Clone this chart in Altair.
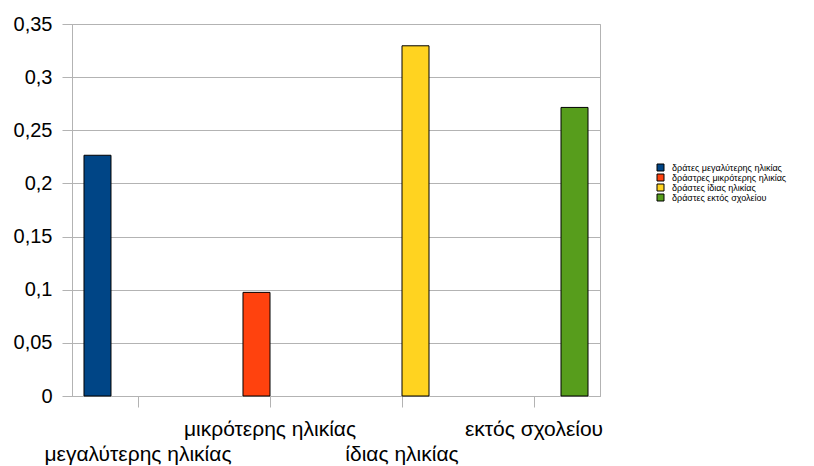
import altair as alt
import pandas as pd

categories = ["μεγαλύτερης ηλικίας", "μικρότερης ηλικίας", "ίδιας ηλικίας", "εκτός σχολείου"]
series = ["δράτες μεγαλύτερης ηλικίας", "δράστρες μικρότερης ηλικίας",
          "δράστες ίδιας ηλικίας", "δράστες εκτός σχολείου"]
values = [0.2265, 0.0975, 0.3295, 0.2715]
colors = ["#004586", "#ff420e", "#ffd320", "#579d1c"]
y_ticks = [0, 0.05, 0.1, 0.15, 0.2, 0.25, 0.3, 0.35]

df = pd.DataFrame({"category": categories, "series": series, "value": values})

grid = "#b3b3b3"
font = "Liberation Sans"

low_row = "datum.value === '" + categories[0] + "' || datum.value === '" + categories[2] + "'"

chart = alt.Chart(df).mark_bar(stroke="black", strokeWidth=1).encode(
    x=alt.X("category:N", sort=categories, title=None,
            scale=alt.Scale(paddingInner=0, paddingOuter=0),
            axis=alt.Axis(labelAngle=0, labelFont=font, labelFontSize=21, labelColor="#000",
                          tickColor=grid, tickSize=11, domainColor=grid, grid=False,
                          labelBaseline="top", labelLimit=400,
                          labelPadding={"condition": {"test": low_row, "value": 36}, "value": 11},
                          labelOverlap=False, labelBound=False, labelFlush=False)),
    xOffset=alt.XOffset("series:N", sort=series,
                        scale=alt.Scale(domain=series, paddingInner=0, paddingOuter=0.444)),
    y=alt.Y("value:Q", title=None,
            scale=alt.Scale(domain=[0, 0.35], nice=False, zero=True),
            axis=alt.Axis(values=y_ticks, labelFont=font, labelFontSize=20, labelColor="#000",
                          labelExpr="replace(format(datum.value, '~g'), '.', ',')",
                          tickColor=grid, tickSize=10, labelPadding=10, domainColor=grid,
                          gridColor=grid, gridWidth=1)),
    color=alt.Color("series:N", sort=series,
                    scale=alt.Scale(domain=series, range=colors),
                    legend=alt.Legend(title=None, orient="none", legendX=584, legendY=139,
                                      symbolType="square", symbolSize=49,
                                      symbolStrokeColor="black", symbolStrokeWidth=1,
                                      labelFont=font, labelFontSize=9, labelColor="#000",
                                      labelOffset=7, rowPadding=-1, padding=0)),
).properties(
    width=528, height=372,
    autosize=alt.AutoSizeParams(type="none"),
    padding={"left": 64, "top": 16, "right": 206, "bottom": 70},
    background="white",
).configure_view(stroke=grid)

chart.save("out.html", embed_options={"renderer": "svg", "actions": False})
